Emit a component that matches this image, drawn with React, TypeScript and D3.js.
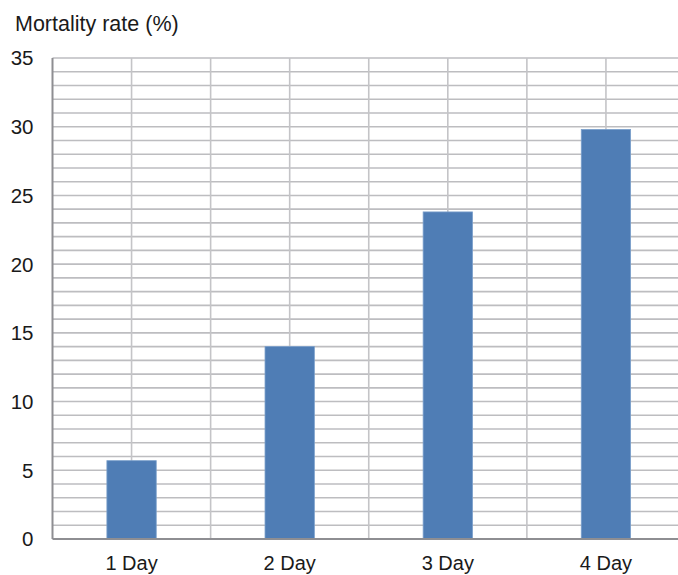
import { useEffect, useRef } from 'react';
import * as d3 from 'd3';

const categories = ['1 Day', '2 Day', '3 Day', '4 Day'];
const mortality = [5.7, 14, 23.8, 29.8];
const yTicks = [0, 5, 10, 15, 20, 25, 30, 35];

const App = () => {
  const svgRef = useRef<SVGSVGElement>(null);
  const width = 678;
  const height = 575;

  useEffect(() => {
    if (!svgRef.current) return;
    const svg = d3.select(svgRef.current);
    svg.selectAll('*').remove();

    const margin = { top: 58, right: -7, bottom: 36, left: 52.5 };
    const innerWidth = width - margin.left - margin.right;
    const innerHeight = height - margin.top - margin.bottom;

    const g = svg.append('g')
      .attr('transform', `translate(${margin.left},${margin.top})`);

    const x = d3.scaleBand()
      .domain(categories)
      .range([0, innerWidth])
      .paddingInner(0)
      .paddingOuter(0);

    const y = d3.scaleLinear()
      .domain([0, 35])
      .range([innerHeight, 0]);

    // horizontal grid, one line per unit
    g.append('g')
      .selectAll('line')
      .data(d3.range(1, 36))
      .join('line')
      .attr('x1', 0)
      .attr('x2', innerWidth)
      .attr('y1', d => y(d))
      .attr('y2', d => y(d))
      .attr('stroke', '#bdbdc0')
      .attr('stroke-width', 1.6);

    // vertical grid: band edges and band centres
    const vLines: number[] = [];
    categories.forEach(c => {
      const x0 = x(c) || 0;
      vLines.push(x0 + x.bandwidth() / 2, x0 + x.bandwidth());
    });
    g.append('g')
      .selectAll('line')
      .data(vLines)
      .join('line')
      .attr('x1', d => d)
      .attr('x2', d => d)
      .attr('y1', 0)
      .attr('y2', innerHeight)
      .attr('stroke', '#c4c4c7')
      .attr('stroke-width', 1.6);

    // bars
    const barW = x.bandwidth() * 0.312;
    g.selectAll('.bar')
      .data(mortality)
      .join('rect')
      .attr('class', 'bar')
      .attr('x', (_, i) => (x(categories[i]) || 0) + x.bandwidth() / 2 - barW / 2)
      .attr('y', d => y(d))
      .attr('width', barW)
      .attr('height', d => innerHeight - y(d))
      .attr('fill', '#4f7db5')
      .attr('stroke', '#7a9fcb')
      .attr('stroke-width', 0.8);

    // axes lines
    g.append('line')
      .attr('x1', 0).attr('x2', 0)
      .attr('y1', 0).attr('y2', innerHeight)
      .attr('stroke', '#8e8e92')
      .attr('stroke-width', 2);
    g.append('line')
      .attr('x1', 0).attr('x2', innerWidth)
      .attr('y1', innerHeight).attr('y2', innerHeight)
      .attr('stroke', '#8e8e92')
      .attr('stroke-width', 2);

    const font = '"Liberation Sans", Arial, sans-serif';

    // y labels
    g.append('g')
      .selectAll('text')
      .data(yTicks)
      .join('text')
      .attr('x', -19)
      .attr('y', d => y(d))
      .attr('dy', '0.36em')
      .attr('text-anchor', 'end')
      .style('font-family', font)
      .style('font-size', '20.5px')
      .style('fill', '#1a1a1a')
      .text(d => d);

    // x labels
    g.append('g')
      .selectAll('text')
      .data(categories)
      .join('text')
      .attr('x', d => (x(d) || 0) + x.bandwidth() / 2)
      .attr('y', innerHeight + 31)
      .attr('text-anchor', 'middle')
      .style('font-family', font)
      .style('font-size', '20px')
      .style('fill', '#1a1a1a')
      .text(d => d);

    // axis title
    svg.append('text')
      .attr('x', 15)
      .attr('y', 30.5)
      .style('font-family', font)
      .style('font-size', '21.5px')
      .style('fill', '#1a1a1a')
      .text('Mortality rate (%)');
  }, []);

  return (
    <svg
      ref={svgRef}
      width={width}
      height={height}
      style={{ position: 'absolute', left: 0, top: 0, background: '#fff' }}
    />
  );
};

export default App;
